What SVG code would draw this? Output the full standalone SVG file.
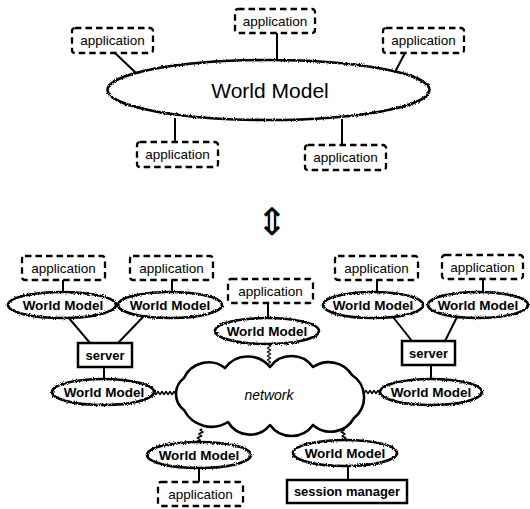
<svg xmlns="http://www.w3.org/2000/svg" width="530" height="509" viewBox="0 0 530 509">
<defs>
<filter id="wavy" x="-5%" y="-20%" width="110%" height="140%">
<feTurbulence type="fractalNoise" baseFrequency="0.9" numOctaves="1" seed="4" result="t"/>
<feDisplacementMap in="SourceGraphic" in2="t" scale="3.5" xChannelSelector="R" yChannelSelector="G"/>
</filter>
</defs>
<style>
.app{fill:#fff;stroke:#000;stroke-width:2.3;stroke-dasharray:6.5 4;}
.box{fill:#fff;stroke:#000;stroke-width:2.5;}
.wm{fill:#fff;stroke:#000;stroke-width:2.6;filter:url(#wavy);}
.ln{stroke:#000;stroke-width:2;fill:none;}
.wl{stroke:#000;stroke-width:1.5;fill:none;stroke-linejoin:round;}
.t{font-family:"Liberation Sans",Arial,Helvetica,sans-serif;fill:#000;text-anchor:middle;}
.ta{font-size:13.5px;}
.tw{font-size:13.5px;font-weight:bold;}
.ts{font-size:13px;font-weight:bold;}
.cloud{fill:#fff;stroke:#000;stroke-width:2.6;stroke-linejoin:round;}
</style>
<rect width="530" height="509" fill="#fff"/>

<g id="connectors">
<line class="ln" x1="115" y1="53" x2="136" y2="73"/>
<line class="ln" x1="277" y1="33" x2="277" y2="61"/>
<line class="ln" x1="405" y1="53" x2="395" y2="72"/>
<line class="ln" x1="175" y1="118" x2="175" y2="142"/>
<line class="ln" x1="342" y1="119" x2="342" y2="145"/>
<line class="ln" x1="63" y1="280" x2="63" y2="293"/>
<line class="ln" x1="172" y1="280" x2="172" y2="293"/>
<line class="ln" x1="268" y1="303" x2="268" y2="319"/>
<line class="ln" x1="377" y1="280" x2="377" y2="293"/>
<line class="ln" x1="483" y1="279" x2="483" y2="293"/>
<line class="ln" x1="68" y1="317" x2="90" y2="343"/>
<line class="ln" x1="143" y1="317" x2="118" y2="343"/>
<line class="ln" x1="393" y1="317" x2="412" y2="341"/>
<line class="ln" x1="457" y1="317" x2="445" y2="341"/>
<line class="ln" x1="104" y1="367" x2="104" y2="380"/>
<line class="ln" x1="431" y1="365" x2="431" y2="380"/>
<line class="ln" x1="199" y1="467" x2="199" y2="482"/>
<line class="ln" x1="348" y1="465" x2="348" y2="480"/>
<path class="wl" d="M153 393 l1 -1.5 l1 1.5 l1 1.5 l1 -1.5 l1 -1.5 l1 1.5 l1 1.5 l1 -1.5 l1 -1.5 l1 1.5 l1 1.5 l1 -1.5 l1 -1.5 l1 1.5 l1 1.5 l1 -1.5 l1 -1.5 l1 1.5 l1 1.5 l1 -1.5 l1 -1.5 l1 1.5 l1 1.5 l1 -1.5 l1 0"/>
<path class="wl" d="M269 343 l-1.5 1 l1.5 1 l1.5 1 l-1.5 1 l-1.5 1 l1.5 1 l1.5 1 l-1.5 1 l-1.5 1 l1.5 1 l1.5 1 l-1.5 1 l-1.5 1 l1.5 1 l1.5 1 l-1.5 1 l-1.5 1 l1.5 1 l1.5 1 l-1.5 1 l-1.5 1 l1.5 1 l1.5 1 l-1.5 1 l0 1"/>
<path class="wl" d="M361 392 l1 -1.5 l1 1.5 l1 1.5 l1 -1.5 l1 -1.5 l1 1.5 l1 1.5 l1 -1.5 l1 -1.5 l1 1.5 l1 1.5 l1 -1.5 l1 -1.5 l1 1.5 l1 1.5 l1 -1.5 l1 -1.5 l1 1.5 l1 1.5 l1 -1.5"/>
<path class="wl" d="M202 429 l-1.9 1 l1.5 1 l1.5 1 l-2.5 1 l-1.9 1 l1.5 1 l1.5 1 l-2.5 1 l-1.9 1 l1.5 1 l1.5 1 l-2.5 1 l-1.9 1 l1.5 1 l0 1"/>
<path class="wl" d="M342 427 l-1.5 1 l1.9 1 l1.9 1 l-1.5 1 l-1.5 1 l1.9 1 l1.9 1 l-1.5 1 l-1.5 1 l1.9 1 l1.9 1 l-1.5 1 l-1.5 1 l1.9 1 l0 1"/>
</g>

<g id="wm-top">
<ellipse class="wm" cx="268.5" cy="90" rx="161" ry="30"/>
<text class="t" x="270" y="97.5" font-size="21">World Model</text>
</g>
<g id="app-top-left"><rect class="app" x="72" y="28" width="81" height="25" rx="3"/><text class="t ta" x="112.5" y="45">application</text></g>
<g id="app-top-center"><rect class="app" x="235" y="9" width="80" height="24" rx="3"/><text class="t ta" x="275" y="25.5">application</text></g>
<g id="app-top-right"><rect class="app" x="383" y="28" width="81" height="25" rx="3"/><text class="t ta" x="423.5" y="45">application</text></g>
<g id="app-top-bl"><rect class="app" x="137" y="142" width="81" height="25" rx="3"/><text class="t ta" x="177.5" y="159">application</text></g>
<g id="app-top-br"><rect class="app" x="305" y="145" width="81" height="25" rx="3"/><text class="t ta" x="345.5" y="162">application</text></g>

<g id="equiv"><text class="t" x="272" y="235" font-size="38" font-family="DejaVu Serif, DejaVu Sans, serif">⇕</text></g>

<g id="app-l1"><rect class="app" x="22" y="256" width="83" height="24" rx="3"/><text class="t ta" x="63.5" y="272.5">application</text></g>
<g id="app-l2"><rect class="app" x="130" y="256" width="83" height="24" rx="3"/><text class="t ta" x="171.5" y="272.5">application</text></g>
<g id="app-c"><rect class="app" x="228" y="279" width="85" height="24" rx="3"/><text class="t ta" x="270.5" y="295.5">application</text></g>
<g id="app-r1"><rect class="app" x="335" y="256" width="83" height="24" rx="3"/><text class="t ta" x="376.5" y="272.5">application</text></g>
<g id="app-r2"><rect class="app" x="442" y="255" width="81" height="24" rx="3"/><text class="t ta" x="482.5" y="271.5">application</text></g>

<g id="wm-l1"><ellipse class="wm" cx="62" cy="305" rx="54" ry="13"/><text class="t tw" x="63" y="310">World Model</text></g>
<g id="wm-l2"><ellipse class="wm" cx="170" cy="305" rx="52" ry="13"/><text class="t tw" x="170" y="310">World Model</text></g>
<g id="wm-c"><ellipse class="wm" cx="267" cy="331" rx="52" ry="13"/><text class="t tw" x="267" y="336">World Model</text></g>
<g id="wm-r1"><ellipse class="wm" cx="373" cy="305" rx="50" ry="13"/><text class="t tw" x="373" y="310">World Model</text></g>
<g id="wm-r2"><ellipse class="wm" cx="478" cy="305" rx="50" ry="13"/><text class="t tw" x="478" y="310">World Model</text></g>

<g id="server-l"><rect class="box" x="78" y="343" width="54" height="24"/><text class="t ts" x="105" y="359.5">server</text></g>
<g id="server-r"><rect class="box" x="402" y="341" width="53" height="24"/><text class="t ts" x="428.5" y="357.5">server</text></g>

<g id="wm-l3"><ellipse class="wm" cx="103" cy="392" rx="51" ry="13"/><text class="t tw" x="104" y="397">World Model</text></g>
<g id="wm-r3"><ellipse class="wm" cx="431" cy="392" rx="51" ry="13"/><text class="t tw" x="431" y="397">World Model</text></g>

<g id="network">
<path class="cloud" d="M184 378 A27 27 0 0 1 225 368 A28.5 28.5 0 0 1 270 367 A26.5 26.5 0 0 1 313 367 A27.6 27.6 0 0 1 352 375 A26.5 26.5 0 0 1 354 418 A26.6 26.6 0 0 1 313 425 A26.5 26.5 0 0 1 270 425 A25.6 25.6 0 0 1 228 422 A31 31 0 0 1 184 410 A20 20 0 0 1 184 378 Z"/>
<text class="t" x="269" y="400" font-size="14" font-style="italic">network</text>
</g>

<g id="wm-b1"><ellipse class="wm" cx="199" cy="455" rx="52" ry="13"/><text class="t tw" x="199" y="460">World Model</text></g>
<g id="wm-b2"><ellipse class="wm" cx="345" cy="453" rx="52" ry="13"/><text class="t tw" x="345" y="458">World Model</text></g>

<g id="app-b"><rect class="app" x="158" y="482" width="85" height="24" rx="3"/><text class="t ta" x="200.5" y="498.5">application</text></g>
<g id="session-manager"><rect class="box" x="287" y="480" width="120" height="23"/><text class="t ts" x="347" y="496">session manager</text></g>
</svg>
